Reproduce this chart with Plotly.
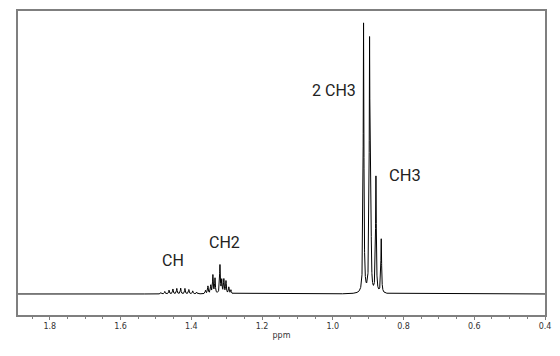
import numpy as np
import plotly.graph_objects as go

# Peak list (ppm, relative intensity)
peak_ppm = [1.486, 1.475, 1.463, 1.452, 1.441, 1.430, 1.418, 1.407, 1.396, 1.385,
            1.360, 1.353, 1.345, 1.339, 1.333, 1.319, 1.314, 1.308, 1.302, 1.294, 1.288,
            0.913, 0.896, 0.892, 0.878, 0.863]
peak_height = [0.005, 0.009, 0.014, 0.018, 0.020, 0.021, 0.020, 0.016, 0.011, 0.006,
               0.012, 0.028, 0.030, 0.068, 0.056, 0.105, 0.048, 0.052, 0.046, 0.024, 0.014,
               1.0, 0.93, 0.22, 0.43, 0.20]
half_width = 0.0012  # ppm, Lorentzian half width

labels = ["CH", "CH2", "2 CH3", "CH3"]
label_ppm = [1.451, 1.306, 0.997, 0.795]
label_y = [0.125, 0.19, 0.755, 0.44]

ppm = np.arange(0.40, 1.89, 0.0001)
intensity = np.zeros_like(ppm)
for p, h in zip(peak_ppm, peak_height):
    intensity += h / (1 + ((ppm - p) / half_width) ** 2)

fig = go.Figure()
fig.add_trace(go.Scatter(x=ppm, y=intensity, mode="lines",
                         line=dict(color="black", width=1), hoverinfo="skip"))

for t, x, y in zip(labels, label_ppm, label_y):
    fig.add_annotation(x=x, y=y, text=t, showarrow=False,
                       font=dict(family="Roboto", size=16.5 if t == "CH3" else 16, color="#222"))

fig.update_layout(
    width=560, height=356,
    margin=dict(l=18, r=14, t=9, b=41),
    paper_bgcolor="white", plot_bgcolor="white",
    showlegend=False,
    xaxis=dict(range=[1.89, 0.40], showgrid=False, zeroline=False,
               showline=True, mirror=True, linecolor="#7f7f7f", linewidth=1.5,
               ticks="outside", ticklen=3, tickcolor="#7f7f7f",
               tick0=0.4, dtick=0.2, tickformat=".1f",
               minor=dict(ticks="outside", ticklen=2, dtick=0.05, tickcolor="#7f7f7f"),
               tickfont=dict(family="DejaVu Sans", size=8, color="#333"),
               title=dict(text="ppm", font=dict(family="DejaVu Sans", size=8, color="#333"),
                          standoff=2)),
    yaxis=dict(range=[-0.078, 1.05], showgrid=False, zeroline=False,
               showline=True, mirror=True, linecolor="#7f7f7f", linewidth=1.5,
               showticklabels=False, ticks=""),
)

fig.write_html("out.html")
